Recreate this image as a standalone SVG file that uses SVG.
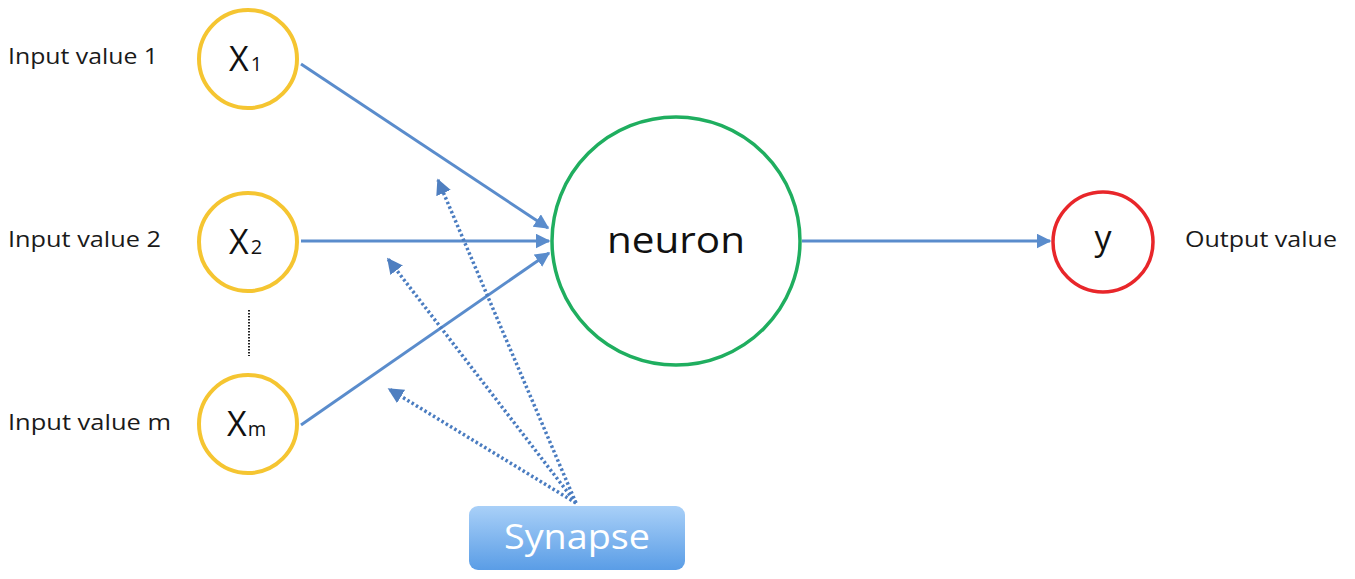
<svg xmlns="http://www.w3.org/2000/svg" width="1355" height="579" viewBox="0 0 1355 579">
  <style>
    .label { font-family: "Open Sans", "Liberation Sans", sans-serif; font-size: 21px; fill: #1a1a1a; }
    .sym { font-family: "Open Sans", "Liberation Sans", sans-serif; fill: #111; }
    .input { fill: #fff; stroke: #f5c531; stroke-width: 4; }
    .wire { stroke: #5a8ccc; stroke-width: 3; fill: none; }
    .syn { stroke: #4a7cc0; stroke-width: 3.5; stroke-dasharray: 2.5 2.5; fill: none; }
  </style>
  <defs>
    <marker id="arrow" viewBox="0 0 10 10" refX="9" refY="5" markerWidth="5" markerHeight="5" orient="auto" markerUnits="strokeWidth">
      <path d="M0,0 L10,5 L0,10 z" fill="#5a8ccc"/>
    </marker>
    <marker id="arrowS" viewBox="0 0 10 10" refX="9" refY="5" markerWidth="4.5" markerHeight="4.5" orient="auto" markerUnits="strokeWidth">
      <path d="M0,0 L10,5 L0,10 z" fill="#4f7fc0"/>
    </marker>
    <linearGradient id="synFill" x1="0" y1="0" x2="0" y2="1">
      <stop offset="0" stop-color="#a9d0f8"/>
      <stop offset="1" stop-color="#5a9de6"/>
    </linearGradient>
  </defs>

  <!-- connectors -->
  <g id="connectors">
    <line class="wire" x1="301" y1="64" x2="548" y2="228" marker-end="url(#arrow)"/>
    <line class="wire" x1="301" y1="241" x2="549" y2="241" marker-end="url(#arrow)"/>
    <line class="wire" x1="301" y1="425" x2="549" y2="253" marker-end="url(#arrow)"/>
    <line class="wire" x1="802" y1="241" x2="1050" y2="241" marker-end="url(#arrow)"/>
    <line class="syn" x1="576" y1="503" x2="438" y2="180" marker-end="url(#arrowS)"/>
    <line class="syn" x1="576" y1="503" x2="388" y2="259" marker-end="url(#arrowS)"/>
    <line class="syn" x1="576" y1="503" x2="389" y2="389" marker-end="url(#arrowS)"/>
    <line x1="249" y1="310" x2="249" y2="356" stroke="#222" stroke-width="2" stroke-dasharray="1.5 1.5"/>
  </g>

  <!-- inputs -->
  <g id="x1">
    <circle class="input" cx="248" cy="59" r="49"/>
    <text class="sym" x="229" y="71" font-size="34">X<tspan font-size="20" dx="2">1</tspan></text>
    <text class="label" x="8" y="64" textLength="150" lengthAdjust="spacingAndGlyphs">Input value 1</text>
  </g>
  <g id="x2">
    <circle class="input" cx="248" cy="242" r="49"/>
    <text class="sym" x="229" y="254" font-size="34">X<tspan font-size="20" dx="2">2</tspan></text>
    <text class="label" x="8" y="247" textLength="153" lengthAdjust="spacingAndGlyphs">Input value 2</text>
  </g>
  <g id="xm">
    <circle class="input" cx="248" cy="424" r="49"/>
    <text class="sym" x="227" y="436" font-size="34">X<tspan font-size="20" dx="1">m</tspan></text>
    <text class="label" x="8" y="430" textLength="163" lengthAdjust="spacingAndGlyphs">Input value m</text>
  </g>

  <!-- neuron -->
  <g id="neuron">
    <circle cx="676" cy="241" r="124" fill="#fff" stroke="#1fae5f" stroke-width="3.5"/>
    <text class="sym" x="607" y="253" font-size="36" textLength="138" lengthAdjust="spacingAndGlyphs">neuron</text>
  </g>

  <!-- output -->
  <g id="output">
    <circle cx="1103" cy="242" r="50" fill="#fff" stroke="#e8262a" stroke-width="3.5"/>
    <text class="sym" x="1103" y="250" font-size="34" text-anchor="middle">y</text>
    <text class="label" x="1185" y="247" textLength="152" lengthAdjust="spacingAndGlyphs">Output value</text>
  </g>

  <!-- synapse -->
  <g id="synapse">
    <rect x="469" y="506" width="216" height="64" rx="9" fill="url(#synFill)"/>
    <text x="504" y="549" font-family="Open Sans, Liberation Sans, sans-serif" font-size="34" fill="#fff" textLength="146" lengthAdjust="spacingAndGlyphs">Synapse</text>
  </g>
</svg>
